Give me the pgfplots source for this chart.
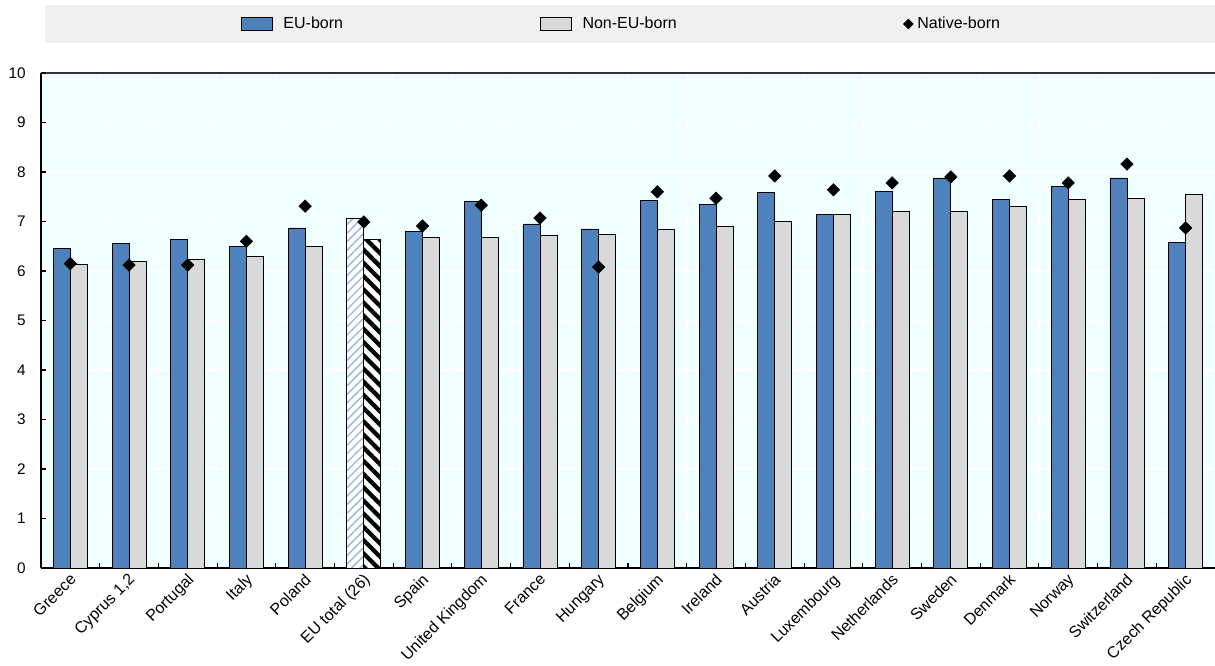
\documentclass[border=0pt]{standalone}
\usepackage{pgfplots}
\pgfplotsset{compat=1.18}
\usepackage{fontspec}
\setmainfont{Liberation Sans}
\usetikzlibrary{patterns.meta}
\definecolor{eublue}{RGB}{79,129,189}
\definecolor{nongray}{RGB}{217,217,217}
\definecolor{bgcyan}{RGB}{240,255,255}
\definecolor{leggray}{RGB}{240,240,240}
\definecolor{hatchblue}{RGB}{150,180,222}
\begin{document}
\begin{tikzpicture}
\begin{axis}[
  at={(0,0)}, anchor=south west,
  width=880.5pt, height=371.25pt, scale only axis,
  xmin=-0.5, xmax=19.5, ymin=0, ymax=10,
  axis x line*=bottom, axis y line*=left,
  axis line style={line width=1pt, black},
  axis background/.style={fill=bgcyan},
  clip=false,
  ytick={0,1,...,9},
  extra y ticks={10},
  extra y tick style={grid style={draw=black!80, line width=1.2pt}},
  ymajorgrids, grid style={white, line width=1.2pt},
  xtick={0,...,19},
  minor xtick={0.5,1.5,...,18.5},
  xminorgrids, minor grid style={white, line width=1.2pt},
  major x tick style={draw=none},
  minor tick length=4pt, major tick length=4pt,
  tick style={black, line width=0.8pt},
  xticklabels={Greece,{Cyprus 1,2},Portugal,Italy,Poland,{EU total (26)},Spain,United Kingdom,France,Hungary,Belgium,Ireland,Austria,Luxembourg,Netherlands,Sweden,Denmark,Norway,Switzerland,Czech Republic},
  x tick label style={rotate=45, anchor=north east, inner sep=1pt, xshift=-2pt, yshift=-0.5pt, font=\fontsize{12}{14}\selectfont},
  y tick label style={font=\fontsize{11.5}{13}\selectfont, xshift=-8pt},
  /pgf/number format/assume math mode=true,
  legend style={draw=none, fill=none, at={(0.4949,1)}, anchor=center, yshift=36.75pt,
    font=\fontsize{12}{14}\selectfont,
    /tikz/column 1/.style={column sep=6pt},
    /tikz/column 2/.style={column sep=146pt},
    /tikz/column 3/.style={column sep=6pt},
    /tikz/column 4/.style={column sep=170pt},
    /tikz/column 5/.style={column sep=6pt}},
  legend columns=3,
]
\path[fill=leggray] ([yshift=22.5pt]rel axis cs:0.0034,1) rectangle ([yshift=51pt]rel axis cs:1,1);

\addplot[ybar, bar width=12.75pt, bar shift=-6.375pt, fill=eublue, draw=black, line width=0.6pt,
  legend image code/.code={\draw[fill=eublue, draw=black, line width=0.6pt] (0pt,-4.9pt) rectangle (23pt,4.9pt);}]
coordinates {(0,6.46) (1,6.55) (2,6.63) (3,6.50) (4,6.87) (6,6.79) (7,7.41) (8,6.95) (9,6.85) (10,7.43) (11,7.35) (12,7.58) (13,7.15) (14,7.60) (15,7.88) (16,7.45) (17,7.70) (18,7.88) (19,6.57)};
\addlegendentry{EU-born}

\addplot[ybar, bar width=12.75pt, bar shift=6.375pt, fill=nongray, draw=black, line width=0.6pt,
  legend image code/.code={\draw[fill=nongray, draw=black, line width=0.6pt] (0pt,-4.9pt) rectangle (23pt,4.9pt);}]
coordinates {(0,6.13) (1,6.19) (2,6.24) (3,6.29) (4,6.50) (6,6.67) (7,6.67) (8,6.71) (9,6.73) (10,6.85) (11,6.91) (12,7.01) (13,7.14) (14,7.21) (15,7.21) (16,7.31) (17,7.45) (18,7.47) (19,7.54)};
\addlegendentry{Non-EU-born}

\addplot[ybar, bar width=12.75pt, bar shift=-6.375pt, fill=white, draw=black, line width=0.6pt, forget plot,
  postaction={pattern={Lines[angle=45, distance=4.5pt, line width=1pt]}, pattern color=hatchblue}]
coordinates {(5,7.07)};
\addplot[ybar, bar width=12.75pt, bar shift=6.375pt, fill=white, draw=black, line width=0.6pt, forget plot,
  postaction={pattern={Lines[angle=-45, distance=7pt, line width=3.2pt]}, pattern color=black}]
coordinates {(5,6.64)};

\addplot[only marks, mark=square*, mark size=3.3pt, mark options={rotate=45, fill=black, draw=black},
  legend image code/.code={\path (0pt,0pt); \draw[overlay, mark=square*, mark size=2.6pt, mark options={rotate=45, fill=black}] plot coordinates {(1.5pt,0pt)};}]
coordinates {(0,6.15) (1,6.12) (2,6.12) (3,6.60) (4,7.31) (5,6.99) (6,6.91) (7,7.33) (8,7.07) (9,6.08) (10,7.60) (11,7.47) (12,7.92) (13,7.64) (14,7.78) (15,7.90) (16,7.92) (17,7.78) (18,8.16) (19,6.87)};
\addlegendentry{Native-born}
\end{axis}
\pgfresetboundingbox
\path[use as bounding box] (-30.75pt,-72.75pt) rectangle (880.5pt,426pt);
\end{tikzpicture}
\end{document}
